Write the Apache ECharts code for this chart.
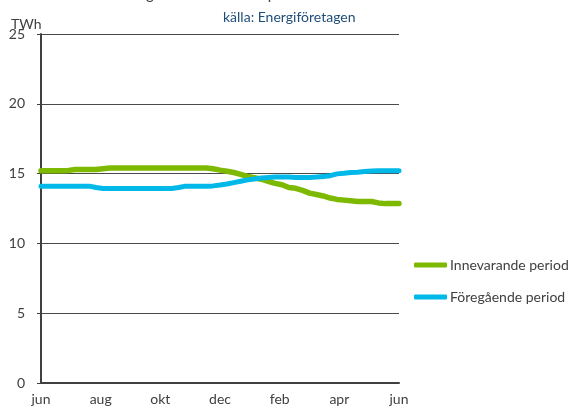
<!DOCTYPE html>
<html><head><meta charset="utf-8">
<script src="https://cdn.jsdelivr.net/npm/echarts@6/dist/echarts.min.js"></script>
<style>html,body{margin:0;padding:0;background:#fff}#c{width:572px;height:408px}</style>
</head><body><div id="c"></div>
<script>
const monthLabels = ['jun','aug','okt','dec','feb','apr','jun'];
const yTicks = [0,5,10,15,20,25];
const innevarande = [15.2,15.2,15.2,15.2,15.23,15.3,15.3,15.3,15.3,15.35,15.4,15.4,15.4,15.4,15.4,15.4,15.4,15.4,15.4,15.4,15.4,15.4,15.4,15.4,15.4,15.35,15.25,15.17,15.08,14.95,14.8,14.7,14.6,14.45,14.3,14.2,14.0,13.95,13.8,13.6,13.5,13.4,13.25,13.15,13.1,13.05,13.0,13.0,13.0,12.9,12.85,12.85,12.85];
const foregaende = [14.1,14.1,14.1,14.1,14.1,14.1,14.1,14.1,14.0,13.93,13.93,13.93,13.93,13.93,13.93,13.93,13.93,13.93,13.93,13.93,14.0,14.1,14.1,14.1,14.1,14.12,14.18,14.25,14.35,14.45,14.55,14.62,14.68,14.72,14.75,14.75,14.75,14.72,14.72,14.72,14.75,14.8,14.85,14.98,15.02,15.08,15.1,15.15,15.18,15.2,15.2,15.2,15.2];
const seriesNames = ['Innevarande period','Föregående period'];
const weeks = innevarande.length - 1;
const toPairs = arr => arr.map((v,i)=>[i*12/weeks, v]);
const font = 'Lato, "Open Sans", sans-serif';
const chart = echarts.init(document.getElementById('c'));
chart.setOption({
  animation:false,
  graphic:[
    {type:'text',x:66,y:-13,silent:true,style:{text:'Elanvändning rullande 12 mån per helår',font:'15px '+font,fill:'#404040'}}
  ],
  title:[
    {text:'källa: Energiföretagen', left:223, top:10, padding:0, textStyle:{fontFamily:font,fontSize:14,fontWeight:'normal',color:'#1F4E79'}},
    {text:'TWh', left:11, top:17, padding:0, textStyle:{fontFamily:font,fontSize:14,fontWeight:'normal',color:'#404040'}}
  ],
  grid:{left:41,right:173,top:34,bottom:25,containLabel:false},
  legend:{orient:'vertical',left:414,top:258,itemGap:18,itemWidth:33,itemHeight:5,icon:'roundRect',padding:0,
    textStyle:{fontFamily:font,fontSize:14,color:'#404040',padding:[0,0,0,-2]},data:seriesNames},
  xAxis:{type:'value',min:0,max:12,interval:2,
    axisLine:{show:true,lineStyle:{color:'#404040',width:2}},
    axisTick:{show:false},splitLine:{show:false},
    axisLabel:{margin:9,fontFamily:font,fontSize:14,color:'#404040',formatter:v=>monthLabels[Math.round(v/2)]}},
  yAxis:{type:'value',min:0,max:25,interval:5,
    axisLine:{show:true,lineStyle:{color:'#404040',width:2}},
    axisTick:{show:true,length:4,lineStyle:{color:'#404040',width:1}},
    splitLine:{show:true,lineStyle:{color:'#4a4a4a',width:1}},
    axisLabel:{margin:16,fontFamily:font,fontSize:14,color:'#404040',formatter:v=>yTicks.includes(v)?String(v):''}},
  series:[
    {name:seriesNames[0],type:'line',data:toPairs(innevarande),showSymbol:false,symbol:'none',lineStyle:{color:'#7DB900',width:5.5,cap:'round'},itemStyle:{color:'#7DB900'},z:2},
    {name:seriesNames[1],type:'line',data:toPairs(foregaende),showSymbol:false,symbol:'none',lineStyle:{color:'#00B9E8',width:5,cap:'round'},itemStyle:{color:'#00B9E8'},z:3}
  ]
});
</script></body></html>
